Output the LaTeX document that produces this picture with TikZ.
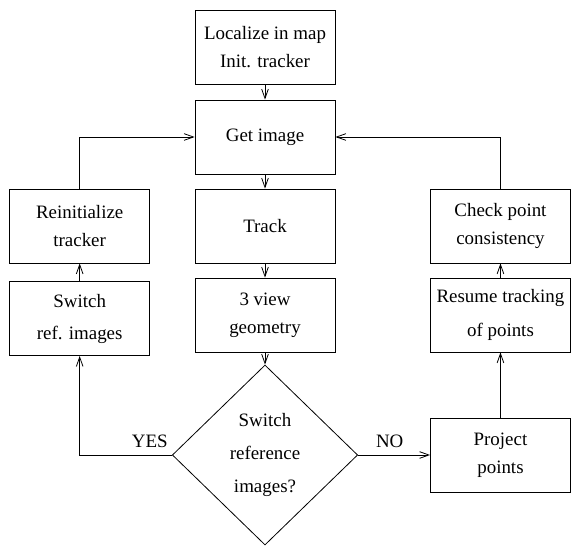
\documentclass[tikz,border=0pt]{standalone}
\usepackage{fontspec}
\setmainfont{Liberation Serif}
\usetikzlibrary{shapes.geometric,arrows.meta}

\begin{document}
\begin{tikzpicture}[x=0.75pt,y=-0.75pt,-{Straight Barb[length=7pt,width=5pt]},
            line width=0.6pt,node distance=66.75pt,
            font=\fontsize{14.2}{21}\selectfont,
            block/.style={draw,rectangle,minimum width=105pt,minimum height=55.5pt,align=center},
            decision/.style={draw,diamond,minimum width=139pt,minimum height=135pt,
                inner sep=0pt,align=center,font=\fontsize{14.2}{25}\selectfont}]

        \useasboundingbox (0,0) rectangle (571,548);

        % Define blocks
        \node[block] (loc) at (265,47) {Localize in map\\Init. tracker};
        \node[block] (get) [below of=loc, node distance=67.5pt] {Get image};
        \node[block] (track) [below of=get] {Track};
        \node[block] (geom) [below of=track] {3 view\\geometry};
        \node[decision] (switchq) [below of=geom, node distance=105pt] {Switch\\reference\\images?};
        \node[block] (reinit) [left of=track, node distance=139pt] {Reinitialize\\tracker};
        \node[block, font=\fontsize{14.2}{24}\selectfont] (switchref) [below of=reinit, node distance=69.4pt] {Switch\\ref. images};
        \node[block] (check) [right of=track, node distance=176.6pt] {Check point\\consistency};
        \node[block, font=\fontsize{14.2}{25}\selectfont] (resume) [below of=check] {Resume tracking\\of points};
        \node[block] (project) [below of=resume, node distance=105pt] {Project\\points};

        % Draw edges
        \path
            (loc) edge (get)
            (get) edge (track)
            (track) edge (geom)
            (geom) edge (switchq)
            (switchref) edge (reinit)
            (project) edge (resume)
            (resume) edge (check);

        \draw (switchq.west) -| node[pos=0.12, above, yshift=2pt] {YES} (switchref.south);
        \draw (switchq.east) -- node[pos=0.44, above, yshift=2pt] {NO} (project.west);
        \draw (reinit.north) |- (get.west);
        \draw (check.north) |- (get.east);

        \end{tikzpicture}
\end{document}
